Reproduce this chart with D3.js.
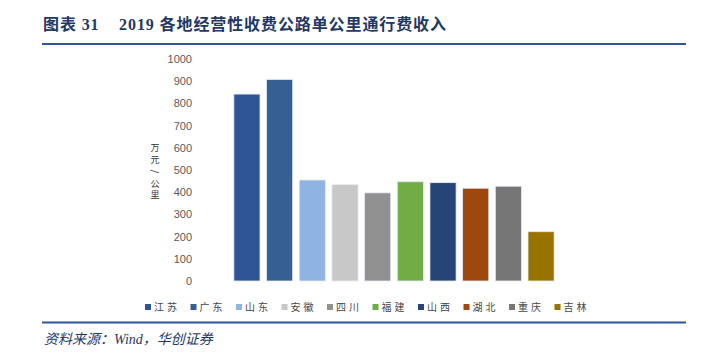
<!DOCTYPE html>
<html><head><meta charset="utf-8">
<script src="https://cdn.jsdelivr.net/npm/d3@7"></script>
<style>
html,body{margin:0;padding:0;background:#fff;}
svg{display:block;}
</style></head>
<body>
<script>
const provinces = ["江苏","广东","山东","安徽","四川","福建","山西","湖北","重庆","吉林"];
const values = [842, 908, 455, 434, 397, 447, 443, 418, 427, 222];
const colors = ["#2F5597","#376092","#8FB4E3","#C8C8C8","#919191","#70AD47","#264478","#9E480E","#767676","#997300"];
const yTicks = [0,100,200,300,400,500,600,700,800,900,1000];
const titleText = "图表 31\u00A0\u00A0\u00A0 2019 各地经营性收费公路单公里通行费收入";
const sourceText = "资料来源：Wind，华创证券";
const yLabelChars = ["万","元","/","公","里"];

const W = 705, H = 356;
const svg = d3.select("body").append("svg").attr("width", W).attr("height", H);

// title
svg.append("text").attr("x", 43).attr("y", 30)
  .attr("font-family", "'Liberation Serif','Noto Sans CJK SC',serif")
  .attr("font-weight", "bold").attr("font-size", 16).attr("letter-spacing", 0.9).attr("fill", "#1F3864")
  .text(titleText);
svg.append("line").attr("x1", 42).attr("x2", 686).attr("y1", 44).attr("y2", 44)
  .attr("stroke", "#2F5597").attr("stroke-width", 2);

// scales
const x = d3.scaleBand().domain(provinces).range([230.6, 557.4]).paddingInner(0.2).paddingOuter(0.1);
const y = d3.scaleLinear().domain([0, 1000]).range([281, 59]);

// y axis (no line)
const yAxis = d3.axisLeft(y).tickValues(yTicks).tickSize(0).tickPadding(0).tickFormat(d3.format("d"));
const gy = svg.append("g").attr("transform", "translate(192,0)").call(yAxis);
gy.select(".domain").remove();
gy.selectAll("text").attr("font-family", "'Liberation Sans',Arial,sans-serif")
  .attr("font-size", 11).attr("fill", "#595959");

// y label vertical (stacked characters)
svg.append("g").selectAll("text").data(yLabelChars).join("text")
  .attr("font-family", "'Noto Sans CJK SC',sans-serif").attr("font-size", 9)
  .attr("fill", "#333").attr("text-anchor", "middle")
  .attr("transform", (d, i) => {
    const cy = 148 + i * 11.8;
    return d === "/" ? `translate(155,${cy}) rotate(90)` : `translate(155,${cy})`;
  })
  .attr("dy", "0.35em")
  .text(d => d);

// bars
svg.append("g").selectAll("rect").data(provinces).join("rect")
  .attr("x", d => x(d)).attr("width", x.bandwidth())
  .attr("y", (d, i) => y(values[i])).attr("height", (d, i) => y(0) - y(values[i]))
  .attr("fill", (d, i) => colors[i])
  .attr("stroke", "#e6ecf5").attr("stroke-width", 0.8);

// legend
const leg = svg.append("g").selectAll("g").data(provinces).join("g")
  .attr("transform", (d, i) => `translate(${145 + i * 45.5},307)`);
leg.append("rect").attr("x", 0).attr("y", -3).attr("width", 6).attr("height", 6)
  .attr("fill", (d, i) => colors[i]);
leg.append("text").attr("x", 9).attr("y", 4)
  .attr("font-family", "'Noto Sans CJK SC',sans-serif").attr("font-size", 10)
  .attr("letter-spacing", 3).attr("fill", "#444")
  .text(d => d);

// footer
svg.append("line").attr("x1", 42).attr("x2", 686).attr("y1", 322.5).attr("y2", 322.5)
  .attr("stroke", "#2F5597").attr("stroke-width", 2);
svg.append("text").attr("x", 44).attr("y", 344)
  .attr("font-family", "'Liberation Serif','Noto Sans CJK SC',serif")
  .attr("font-style", "italic").attr("font-size", 14).attr("fill", "#1F3864")
  .text(sourceText);
</script>
</body></html>
